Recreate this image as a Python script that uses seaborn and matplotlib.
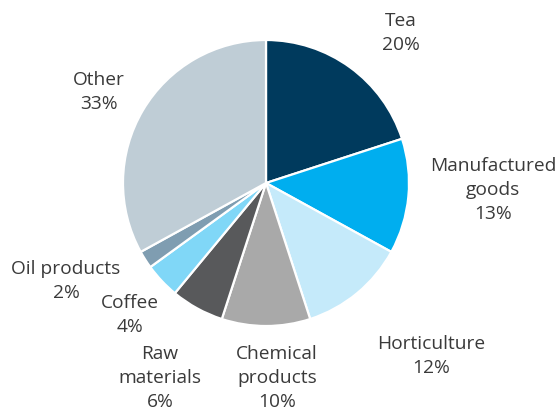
import matplotlib
matplotlib.use("Agg")
import matplotlib.pyplot as plt
import seaborn as sns

categories = ["Tea", "Manufactured\ngoods", "Horticulture", "Chemical\nproducts",
              "Raw\nmaterials", "Coffee", "Oil products", "Other"]
values = [20, 13, 12, 10, 6, 4, 2, 33]
colors = ["#003a5d", "#00aeef", "#c5eafa", "#a9a9a9", "#58595b", "#80d7f7", "#7f9db1", "#bfcdd6"]

sns.set_theme(style="white")
plt.rcParams["font.family"] = ["Open Sans", "DejaVu Sans"]

W, H = 560, 414
CX, CY, R = 266, 184, 143
fig = plt.figure(figsize=(W / 100, H / 100), dpi=100)
ax = fig.add_axes([0, 0, 1, 1])
ax.pie(values, colors=colors, startangle=90, counterclock=False, radius=1,
       wedgeprops=dict(edgecolor="white", linewidth=1.6))
ax.set_xlim((0 - CX) / R, (W - CX) / R)
ax.set_ylim((CY - H) / R, CY / R)
ax.set_aspect("equal")
ax.axis("off")

# label anchor positions in pixels (layout only)
label_px = [(401, 33), (493, 190), (431, 356), (277, 378), (160, 378), (130, 315), (66, 281), (99, 92)]
for name, v, (px, py) in zip(categories, values, label_px):
    ax.text((px - CX) / R, (CY - py) / R, f"{name}\n{v}%", ha="center", va="center",
            fontsize=13.8, color="#3a3a3a", linespacing=1.42)

fig.savefig("out.png", dpi=100)
